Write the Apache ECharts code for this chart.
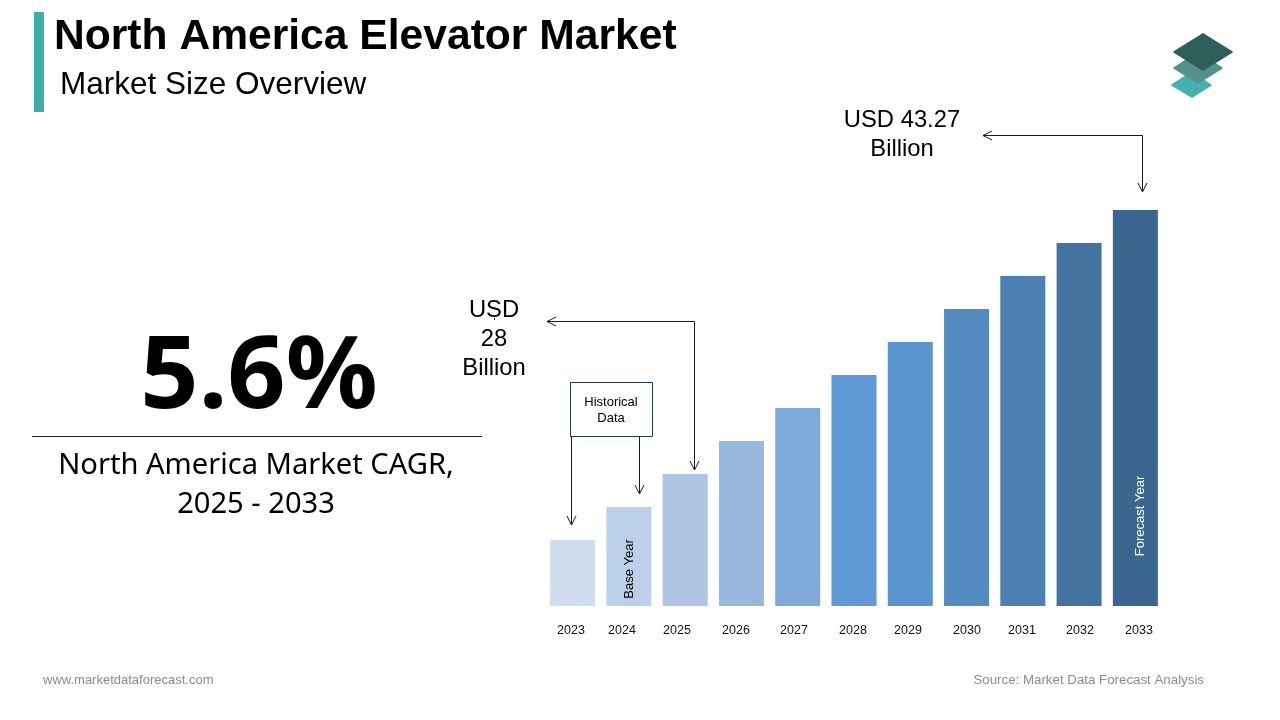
<!DOCTYPE html>
<html>
<head>
<meta charset="utf-8">
<title>North America Elevator Market</title>
<script src="https://cdn.jsdelivr.net/npm/echarts@6/dist/echarts.min.js"></script>
<style>
  html, body { margin: 0; padding: 0; background: #fff; }
  #chart { width: 1280px; height: 720px; }
</style>
</head>
<body>
<div id="chart"></div>
<script>
// 柱子的高度是示意的，原图没有y轴，这里按像素高度读数
const years = ['2023', '2024', '2025', '2026', '2027', '2028', '2029', '2030', '2031', '2032', '2033']
const barHeights = [66, 99, 132, 165, 198, 231, 264, 297, 330, 363, 396]
const barColors = ['#cfdcee', '#bdd0e9', '#aec6e4', '#98b8de', '#7fa9da', '#5f9ad6', '#5a94cf', '#548bc0', '#4c80b1', '#44739f', '#3b668f']
// 原图年份标签没有和柱子对齐
const yearLabelX = [571, 622, 677, 736, 794, 853, 908, 967, 1022, 1080, 1139]

const FONT = '"Liberation Sans", Arial, sans-serif'
const FONT2 = '"Noto Sans", "Open Sans", sans-serif'
const LINE = '#1a1a1a'

const gridLeft = 544.5
const gridRight = 1163.5

function text(str, x, y, size, opts = {}) {
  return {
    type: 'text',
    x,
    y,
    rotation: opts.rotation || 0,
    scaleX: opts.scaleX || 1,
    z: 10,
    style: {
      text: str,
      x: 0,
      y: 0,
      fill: opts.color || '#000',
      font: `${opts.weight || 'normal'} ${size}px ${opts.family || FONT}`,
      textAlign: opts.align || 'center',
      textVerticalAlign: 'middle'
    }
  }
}

function path(points, color, width) {
  return {
    type: 'polyline',
    z: 9,
    shape: { points },
    style: { stroke: color || LINE, lineWidth: width || 1, fill: null }
  }
}

function diamond(points, color, z) {
  return {
    type: 'polygon',
    z,
    shape: { points },
    style: { fill: color, stroke: color, lineWidth: 1.5, lineJoin: 'round' }
  }
}

const graphics = [
  // 标题
  { type: 'rect', shape: { x: 34, y: 12, width: 10, height: 100 }, style: { fill: '#3fada8' } },
  text('North America Elevator Market', 54, 37, 42.6, { align: 'left', weight: 'bold' }),
  text('Market Size Overview', 60, 85, 31.5, { align: 'left' }),

  // 右上角图标
  diamond([[1192, 72], [1211, 85], [1192, 97], [1172, 85]], '#45b0ae', 5),
  diamond([[1198, 52], [1222, 68], [1198, 83], [1174, 68]], '#55908c', 6),
  diamond([[1203, 34], [1232, 52], [1203, 70], [1174, 52]], '#2f5f5b', 7),

  // 左侧CAGR
  text('5.6%', 259, 380, 100, { weight: 'bold', family: FONT2, scaleX: 1.02 }),
  path([[32, 436.5], [482, 436.5]], '#222'),
  text('North America Market CAGR,', 256, 466, 29.1, { family: FONT2 }),
  text('2025 - 2033', 256, 505, 29.1, { family: FONT2 }),

  // 2033 标注
  text('USD 43.27', 902, 120, 23.8),
  text('Billion', 902, 149, 23.8),
  path([[983, 135.5], [1142.5, 135.5], [1142.5, 191]]),
  path([[992, 131], [983, 135.5], [992, 140]]),
  path([[1138, 183], [1142.5, 192], [1147, 183]]),

  // 2025 标注
  text('USD', 494, 310, 23.8),
  text('28', 494, 339, 23.8),
  text('Billion', 494, 368, 23.8),
  path([[494.5, 318], [494.5, 320]]),
  path([[547, 321.5], [694.5, 321.5], [694.5, 469]]),
  path([[556, 317], [547, 321.5], [556, 326]]),
  path([[690, 461], [694.5, 470], [699, 461]]),

  // Historical Data
  {
    type: 'rect',
    z: 9,
    shape: { x: 570.5, y: 382.5, width: 82, height: 54 },
    style: { fill: '#fff', stroke: '#1f3a5f', lineWidth: 1 }
  },
  text('Historical', 611, 402, 13),
  text('Data', 611, 418, 13),
  path([[571.5, 436], [571.5, 524]]),
  path([[567, 516], [571.5, 525], [576, 516]]),
  path([[639.5, 436], [639.5, 493]]),
  path([[635, 485], [639.5, 494], [644, 485]]),

  // 柱内文字
  text('Base Year', 629.5, 569, 13, { rotation: Math.PI / 2 }),
  text('Forecast Year', 1140.5, 516, 13, { rotation: Math.PI / 2, color: '#fff' }),

  // 页脚
  text('www.marketdataforecast.com', 43, 680, 13, { align: 'left', color: '#8c8c8c' }),
  text('Source: Market Data Forecast Analysis', 1204, 680, 13.3, { align: 'right', color: '#8c8c8c' })
]

const myChart = echarts.init(document.getElementById('chart'), null, { renderer: 'canvas' })

myChart.setOption({
  animation: false,
  backgroundColor: '#fff',
  grid: {
    left: gridLeft,
    right: 1280 - gridRight,
    top: 210,
    bottom: 114,
    containLabel: false
  },
  xAxis: [
    {
      type: 'category',
      data: years,
      axisLine: { show: false },
      axisTick: { show: false },
      axisLabel: { show: false }
    },
    {
      // 只用来放年份标签
      type: 'value',
      position: 'bottom',
      min: gridLeft,
      max: gridRight,
      axisLine: { show: false },
      axisTick: { show: false },
      splitLine: { show: false },
      axisLabel: {
        customValues: yearLabelX,
        formatter: (value) => years[yearLabelX.indexOf(value)],
        margin: 18,
        color: '#111',
        fontSize: 12.5,
        fontFamily: FONT
      }
    }
  ],
  yAxis: {
    type: 'value',
    min: 0,
    max: 396,
    show: false,
    splitLine: { show: false }
  },
  series: [
    {
      type: 'bar',
      xAxisIndex: 0,
      barWidth: 45,
      data: barHeights.map((value, i) => ({
        value,
        itemStyle: { color: barColors[i] }
      }))
    }
  ],
  graphic: { elements: graphics }
})
</script>
</body>
</html>
